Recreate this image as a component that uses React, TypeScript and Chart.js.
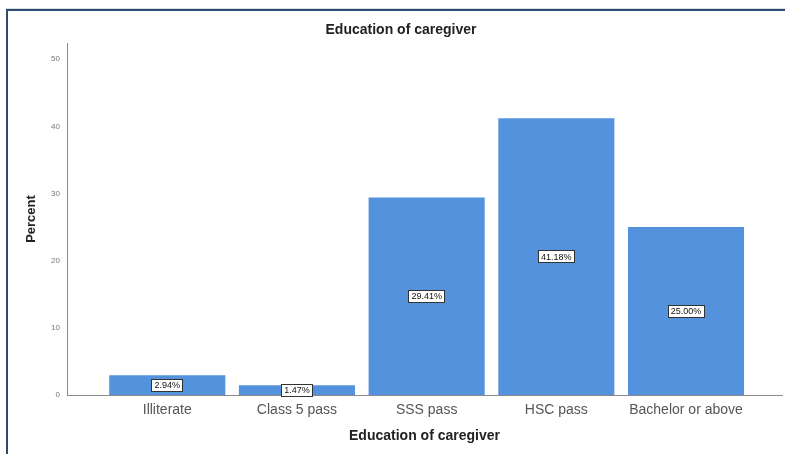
import React, { useEffect, useRef } from "react";
import { Chart, registerables } from "chart.js";

Chart.register(...registerables);

const categories = ["Illiterate", "Class 5 pass", "SSS pass", "HSC pass", "Bachelor or above"];
const percents = [2.94, 1.47, 29.41, 41.18, 25.0];
const yTicks = [0, 10, 20, 30, 40, 50];
const chartTitle = "Education of caregiver";
const xTitle = "Education of caregiver";
const yTitle = "Percent";

const FONT = "'Liberation Sans', Arial, sans-serif";
const BAR = "#5592DE";

const framePlugin = {
  id: "frame",
  beforeDraw(chart: any) {
    const ctx = chart.ctx;
    ctx.save();
    ctx.fillStyle = "#ffffff";
    ctx.fillRect(0, 0, chart.width, chart.height);
    ctx.fillStyle = "#d9dde3";
    ctx.fillRect(6, 8, chart.width - 6, 1);
    ctx.fillStyle = "#2d4a70";
    ctx.fillRect(6, 9, chart.width - 6, 2);
    ctx.fillRect(6, 9, 2, chart.height - 9);
    ctx.restore();
  },
  afterDraw(chart: any) {
    const ctx = chart.ctx;
    ctx.save();
    ctx.font = `bold 14px ${FONT}`;
    ctx.fillStyle = "#222";
    ctx.textAlign = "center";
    ctx.textBaseline = "middle";
    ctx.fillText(chartTitle, 401, 30);
    ctx.restore();
  },
};

const labelPlugin = {
  id: "barLabels",
  afterDatasetsDraw(chart: any) {
    const ctx = chart.ctx;
    const meta = chart.getDatasetMeta(0);
    const yScale = chart.scales.y;
    ctx.save();
    ctx.font = `9px ${FONT}`;
    ctx.textAlign = "center";
    ctx.textBaseline = "middle";
    meta.data.forEach((bar: any, i: number) => {
      const v = percents[i];
      const text = v.toFixed(2) + "%";
      const cx = bar.x;
      const cy = (yScale.getPixelForValue(v) + yScale.getPixelForValue(0)) / 2;
      const w = ctx.measureText(text).width + 6;
      const h = 13;
      ctx.fillStyle = "#ffffff";
      ctx.fillRect(Math.round(cx - w / 2), Math.round(cy - h / 2), Math.round(w), h);
      ctx.strokeStyle = "#333";
      ctx.lineWidth = 1;
      ctx.strokeRect(Math.round(cx - w / 2) + 0.5, Math.round(cy - h / 2) + 0.5, Math.round(w) - 1, h - 1);
      ctx.fillStyle = "#111";
      ctx.fillText(text, cx, cy + 0.5);
    });
    ctx.restore();
  },
};

export default function App() {
  const ref = useRef<HTMLCanvasElement>(null);
  useEffect(() => {
    if (!ref.current) return;
    const chart = new Chart(ref.current, {
      type: "bar",
      data: {
        datasets: [
          {
            data: percents.map((p, i) => ({ x: i + 1, y: p })),
            backgroundColor: BAR,
            borderWidth: 0,
            categoryPercentage: 1,
            barPercentage: 0.895,
          } as any,
        ],
      },
      options: {
        responsive: false,
        animation: false,
        events: [],
        layout: { padding: { top: 43, right: 3, bottom: 0, left: 0 } },
        plugins: {
          legend: { display: false },
          title: { display: false },
          tooltip: { enabled: false },
        },
        scales: {
          x: {
            type: "linear",
            offset: false,
            min: 0.227,
            max: 5.74,
            afterBuildTicks: (s: any) => {
              s.ticks = categories.map((_, i) => ({ value: i + 1 }));
            },
            afterFit: (s: any) => {
              s.height = 59;
            },
            grid: { display: false, drawTicks: false },
            border: { display: true, color: "#8a8a8a", width: 1 },
            ticks: {
              padding: 7,
              color: "#555",
              font: { family: FONT, size: 14 },
              autoSkip: false,
              maxRotation: 0,
              callback: (v: any) => categories[Math.round(v) - 1] ?? "",
            },
            title: {
              display: true,
              text: xTitle,
              color: "#222",
              font: { family: FONT, size: 14, weight: "bold" },
              padding: { top: 0, bottom: 9 },
            },
          },
          y: {
            min: 0,
            max: 52.4,
            afterBuildTicks: (s: any) => {
              s.ticks = yTicks.map((v) => ({ value: v }));
            },
            afterFit: (s: any) => {
              s.width = 67;
            },
            grid: { display: false, drawTicks: true, tickLength: 3, tickColor: "#999" },
            border: { display: true, color: "#8a8a8a", width: 1 },
            ticks: {
              padding: 4,
              color: "#777",
              font: { family: FONT, size: 8 },
            },
            title: {
              display: true,
              text: yTitle,
              color: "#222",
              font: { family: FONT, size: 13, weight: "bold" },
              padding: { top: 24, bottom: 0 },
            },
          },
        },
      } as any,
      plugins: [framePlugin, labelPlugin],
    });
    return () => chart.destroy();
  }, []);
  return (
    <div style={{ position: "fixed", left: 0, top: 0, width: 785, height: 454 }}>
      <canvas ref={ref} width={785} height={454} style={{ width: 785, height: 454, display: "block" }} />
    </div>
  );
}
